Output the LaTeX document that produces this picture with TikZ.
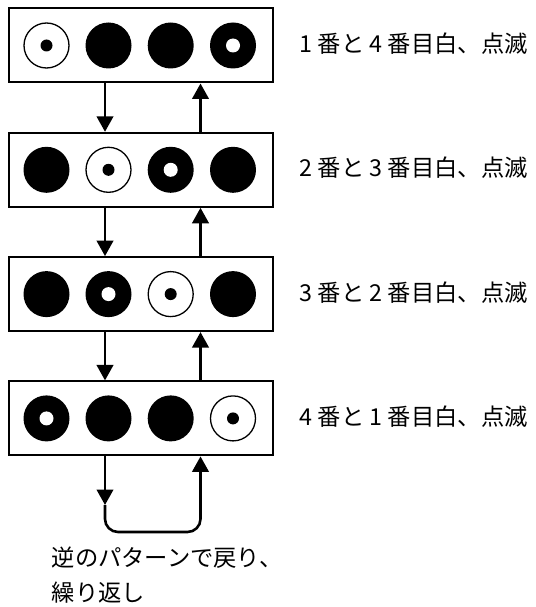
\documentclass[tikz,border=0pt]{standalone}
\usepackage{fontspec}
\setmainfont{Noto Sans CJK JP}
\usetikzlibrary{arrows.meta}
\tikzset{
  panel/.style={draw=black, line width=2pt, minimum width=264pt, minimum height=74pt, inner sep=0pt, fill=white},
  lampon/.style={circle, fill=black, minimum size=46pt, inner sep=0pt},
  lampwhite/.style={circle, draw=black, line width=1.3pt, fill=white, minimum size=45pt, inner sep=0pt,
    path picture={\fill[black] (path picture bounding box.center) circle (6pt);}},
  lampblink/.style={circle, fill=black, minimum size=46pt, inner sep=0pt,
    path picture={\fill[white] (path picture bounding box.center) circle (7pt);}},
  conn/.style={line width=2.6pt, -{Triangle[length=15.5pt,width=16.5pt]}},
  lbl/.style={anchor=base west, inner sep=0pt, font=\fontsize{23.3}{26}\selectfont},
}
\begin{document}
\begin{tikzpicture}[x=1pt,y=-1pt]
\useasboundingbox[fill=white] (0,0) rectangle (535,607);
% panels
\node[panel] (b1) at (141,45.5) {};
\node[panel] (b2) at (141,169.8) {};
\node[panel] (b3) at (141,294.1) {};
\node[panel] (b4) at (141,418.4) {};
% lamps
\node[lampwhite] (l11) at (46.5,45.5) {};
\node[lampon]    (l12) at (108.5,45.5) {};
\node[lampon]    (l13) at (170.7,45.5) {};
\node[lampblink] (l14) at (233,45.5) {};
\node[lampon]    (l21) at (46.5,169.8) {};
\node[lampwhite] (l22) at (108.5,169.8) {};
\node[lampblink] (l23) at (170.7,169.8) {};
\node[lampon]    (l24) at (233,169.8) {};
\node[lampon]    (l31) at (46.5,294.1) {};
\node[lampblink] (l32) at (108.5,294.1) {};
\node[lampwhite] (l33) at (170.7,294.1) {};
\node[lampon]    (l34) at (233,294.1) {};
\node[lampblink] (l41) at (46.5,418.4) {};
\node[lampon]    (l42) at (108.5,418.4) {};
\node[lampon]    (l43) at (170.7,418.4) {};
\node[lampwhite] (l44) at (233,418.4) {};
% labels
\node[lbl] (t1) at (299.5,52.4) {1 番と 4 番目白、点滅};
\node[lbl] (t2) at (299.5,176.7) {2 番と 3 番目白、点滅};
\node[lbl] (t3) at (299.5,301.0) {3 番と 2 番目白、点滅};
\node[lbl] (t4) at (299.5,425.3) {4 番と 1 番目白、点滅};
% connectors
\coordinate (dl) at (105,0);
\coordinate (ul) at (200.5,0);
\draw[conn] (b1.south -| dl) -- (b2.north -| dl);
\draw[conn] (b2.north -| ul) -- (b1.south -| ul);
\draw[conn] (b2.south -| dl) -- (b3.north -| dl);
\draw[conn] (b3.north -| ul) -- (b2.south -| ul);
\draw[conn] (b3.south -| dl) -- (b4.north -| dl);
\draw[conn] (b4.north -| ul) -- (b3.south -| ul);
% loop back
\coordinate (tipL) at (105,505);
\coordinate (loopL) at (105,532);
\draw[conn] (b4.south -| dl) -- (tipL);
\draw[conn, rounded corners=13pt] (tipL) -- (loopL) -| (b4.south -| ul);
% bottom caption
\node[lbl] (c1) at (51.5,566.8) {逆のパターンで戻り、};
\node[lbl] (c2) at (51.5,601.6) {繰り返し};
\end{tikzpicture}
\end{document}
